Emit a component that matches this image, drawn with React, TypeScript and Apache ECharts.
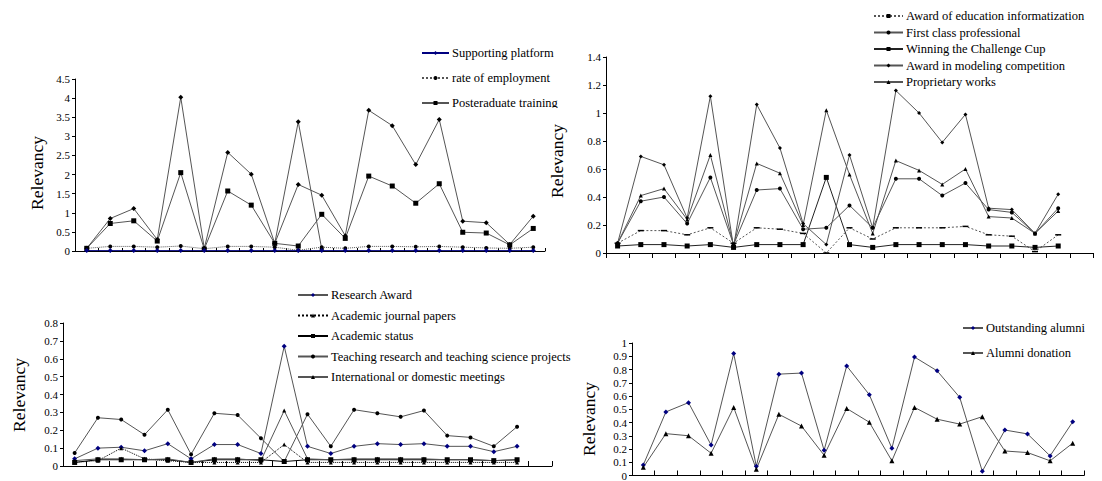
import React, { useEffect, useRef } from "react";
import * as echarts from "echarts";

// ---------- categories ----------
const cats20 = ["1","2","3","4","5","6","7","8","9","10","11","12","13","14","15","16","17","18","19","20"];
const cats21 = ["1","2","3","4","5","6","7","8","9","10","11","12","13","14","15","16","17","18","19","20",""];

// ---------- panel 1 (top left) ----------
const p1Platform = [0.01,0.01,0.01,0.01,0.01,0.01,0.01,0.01,0.01,0.01,0.01,0.01,0.01,0.01,0.01,0.01,0.01,0.01,0.01,0.01];
const p1Employment = [0.07,0.12,0.12,0.10,0.13,0.06,0.12,0.12,0.10,0.02,0.10,0.07,0.12,0.12,0.11,0.12,0.10,0.08,0.07,0.10];
const p1Postgrad = [0.07,0.72,0.79,0.26,2.05,0.05,1.57,1.20,0.20,0.13,0.96,0.33,1.96,1.70,1.25,1.76,0.49,0.47,0.16,0.59];
const p1Top = [0.07,0.85,1.11,0.30,4.02,0.07,2.58,2.01,0.20,1.74,1.46,0.40,3.68,3.28,2.26,3.44,0.78,0.74,0.17,0.91];
const p1Spike = [null,null,null,null,null,null,null,null,0.20,3.38,0.05,null,null,null,null,null,null,null,null,null];

// ---------- panel 2 (top right) ----------
const p2Education = [0.07,0.16,0.16,0.13,0.18,0.07,0.18,0.17,0.14,0.00,0.18,0.10,0.18,0.18,0.18,0.19,0.13,0.12,0.01,0.13];
const p2FirstClass = [0.07,0.37,0.40,0.21,0.54,0.06,0.45,0.46,0.17,0.18,0.34,0.18,0.53,0.53,0.41,0.50,0.31,0.29,0.14,0.32];
const p2Challenge = [0.05,0.06,0.06,0.05,0.06,0.04,0.06,0.06,0.06,0.54,0.06,0.04,0.06,0.06,0.06,0.06,0.05,0.05,0.04,0.05];
const p2Modeling = [0.07,0.69,0.63,0.25,1.12,0.04,1.06,0.75,0.21,0.06,0.70,0.18,1.16,1.00,0.79,0.99,0.32,0.31,0.14,0.42];
const p2Proprietary = [0.07,0.41,0.46,0.24,0.70,0.06,0.64,0.57,0.20,1.02,0.56,0.14,0.66,0.59,0.49,0.60,0.26,0.25,0.14,0.30];

// ---------- panel 3 (bottom left) ----------
const p3Research = [0.04,0.10,0.105,0.085,0.125,0.04,0.12,0.12,0.07,0.67,0.11,0.07,0.11,0.125,0.12,0.125,0.11,0.11,0.08,0.11];
const p3Journal = [0.02,0.03,0.10,0.04,0.03,0.02,0.02,0.02,0.02,0.12,0.02,0.02,0.02,0.02,0.02,0.02,0.02,0.02,0.02,0.02];
const p3Status = [0.02,0.035,0.035,0.035,0.035,0.02,0.035,0.035,0.035,0.025,0.035,0.035,0.035,0.035,0.035,0.035,0.035,0.035,0.03,0.035];
const p3Teaching = [0.073,0.27,0.26,0.175,0.315,0.065,0.295,0.285,0.155,0.025,0.29,0.11,0.315,0.295,0.275,0.31,0.17,0.16,0.11,0.22];
const p3Meetings = [0.03,0.04,0.04,0.035,0.04,0.02,0.04,0.04,0.03,0.31,0.04,0.035,0.04,0.04,0.04,0.04,0.035,0.035,0.03,0.035];

// ---------- panel 4 (bottom right) ----------
const p4Alumni = [0.08,0.48,0.55,0.23,0.92,0.07,0.765,0.773,0.19,0.827,0.61,0.205,0.894,0.79,0.59,0.032,0.343,0.314,0.148,0.405];
const p4Donation = [0.062,0.316,0.30,0.168,0.514,0.047,0.462,0.373,0.153,0.506,0.402,0.111,0.514,0.425,0.388,0.444,0.185,0.173,0.111,0.244];

const FONT = "'Liberation Serif', 'Times New Roman', serif";
const LINE = "#555";
const NAVY = "#000080";

function xAx(gridIndex: number, data: string[], inside: boolean, len: number) {
  return {
    gridIndex,
    type: "category",
    data,
    boundaryGap: true,
    axisLine: { show: true, onZero: false, lineStyle: { color: "#000", width: 1 } },
    axisTick: { show: true, inside, length: len, interval: 0, lineStyle: { color: "#000", width: 1 } },
    axisLabel: { show: false },
    splitLine: { show: false },
  };
}

function yAx(gridIndex: number, max: number, interval: number) {
  return {
    gridIndex,
    type: "value",
    min: 0,
    max,
    interval,
    axisLine: { show: true, lineStyle: { color: "#000", width: 1 } },
    axisTick: { show: true, length: 3, lineStyle: { color: "#000", width: 1 } },
    axisLabel: { color: "#000", fontFamily: FONT, fontSize: 11, margin: 5 },
    splitLine: { show: false },
  };
}

function line(
  name: string,
  data: (number | null)[],
  idx: number,
  symbol: string,
  size: any,
  opts: { lineColor?: string; markColor?: string; lineType?: any } = {}
) {
  return {
    name,
    type: "line",
    xAxisIndex: idx,
    yAxisIndex: idx,
    data,
    symbol,
    symbolSize: size,
    showSymbol: true,
    showAllSymbol: true,
    connectNulls: false,
    lineStyle: { color: opts.lineColor || LINE, width: 1, type: opts.lineType || "solid" },
    itemStyle: { color: opts.markColor || "#000" },
    emphasis: { disabled: true },
  };
}

function legend(names: string[], left: number, top: number, gap: number, itemWidth: number, bg?: string) {
  return {
    orient: "vertical",
    left,
    top,
    padding: bg ? [2, 4, 2, 0] : 0,
    backgroundColor: bg || "transparent",
    itemGap: gap,
    itemWidth,
    itemHeight: 5,
    data: names,
    selectedMode: false,
    textStyle: { fontFamily: FONT, fontSize: 12.5, color: "#000", lineHeight: 14, padding: [0, 0, 0, -2] },
  };
}

function relevancy(x: number, y: number) {
  return {
    type: "text",
    x,
    y,
    rotation: Math.PI / 2,
    z: 100,
    style: {
      text: "Relevancy",
      font: `17.5px ${FONT}`,
      fill: "#000",
      textAlign: "center",
      textVerticalAlign: "middle",
    },
  };
}

export default function App() {
  const ref = useRef<HTMLDivElement>(null);
  useEffect(() => {
    document.body.style.margin = "0";
    if (!ref.current) return;
    const chart = echarts.init(ref.current, undefined, { renderer: "svg" });
    chart.setOption({
      animation: false,
      backgroundColor: "#fff",
      grid: [
        { left: 75, top: 79, width: 470, height: 172 },
        { left: 606, top: 57, width: 487, height: 196 },
        { left: 63, top: 323, width: 489, height: 143 },
        { left: 632, top: 343, width: 452, height: 135 },
      ],
      xAxis: [xAx(0, cats20, true, 3), xAx(1, cats21, false, 5), xAx(2, cats21, true, 5), xAx(3, cats20, true, 5)],
      yAxis: [yAx(0, 4.5, 0.5), yAx(1, 1.4, 0.2), yAx(2, 0.8, 0.1), yAx(3, 1, 0.1)],
      legend: [
        legend(["Supporting platform", "rate of employment", "Posteraduate training"], 421, 46, 11, 27),
        legend(
          ["Award of education informatization", "First class professional", "Winning the Challenge Cup", "Award in modeling competition", "Proprietary works"],
          873, 9, 2.5, 29
        ),
        legend(
          ["Research Award", "Academic journal papers", "Academic status", "Teaching research and teaching science projects", "International or domestic meetings"],
          297, 286, 6.5, 30, "#fff"
        ),
        legend(["Outstanding alumni", "Alumni donation"], 962, 321, 11, 20),
      ],
      series: [
        // panel 1
        line("p1-top", p1Top, 0, "diamond", 5),
        line("p1-spike", p1Spike, 0, "diamond", 5),
        line("Posteraduate training", p1Postgrad, 0, "rect", 5),
        line("rate of employment", p1Employment, 0, "circle", 4, { lineType: "dotted" }),
        line("Supporting platform", p1Platform, 0, "diamond", 5, { lineColor: NAVY, markColor: NAVY }),
        // panel 2
        line("Award of education informatization", p2Education, 1, "rect", [6, 1.5], { lineType: [2, 2] }),
        line("First class professional", p2FirstClass, 1, "circle", 4),
        line("Winning the Challenge Cup", p2Challenge, 1, "rect", 5, { lineColor: "#222" }),
        line("Award in modeling competition", p2Modeling, 1, "diamond", 4),
        line("Proprietary works", p2Proprietary, 1, "triangle", 4),
        // panel 3
        line("Research Award", p3Research, 2, "diamond", 5, { markColor: NAVY }),
        line("Academic journal papers", p3Journal, 2, "triangle", 4, { lineType: "dotted", lineColor: "#000" }),
        line("Academic status", p3Status, 2, "rect", 5, { lineColor: "#000" }),
        line("Teaching research and teaching science projects", p3Teaching, 2, "circle", 4),
        line("International or domestic meetings", p3Meetings, 2, "triangle", 4),
        // panel 4
        line("Outstanding alumni", p4Alumni, 3, "diamond", 5, { markColor: NAVY }),
        line("Alumni donation", p4Donation, 3, "triangle", 5),
      ],
      graphic: [
        relevancy(37, 173),
        relevancy(557, 161),
        relevancy(19, 395),
        relevancy(589, 419),
        { type: "rect", z: 200, shape: { x: 415, y: 108, width: 150, height: 8 }, style: { fill: "#fff" } },
      ],
    });
    return () => chart.dispose();
  }, []);
  return <div ref={ref} style={{ width: 1102, height: 481 }} />;
}
